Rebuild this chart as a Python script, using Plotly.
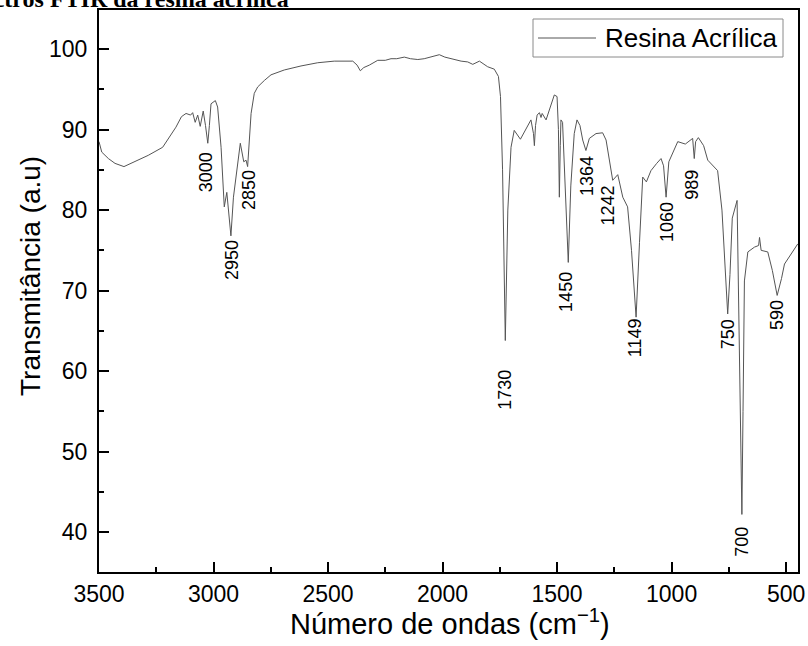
import plotly.graph_objects as go

# Spectrum (wavenumber cm-1, transmittance)
wavenumber = [3500, 3488, 3459, 3430, 3391, 3343, 3285, 3222, 3204, 3164, 3140, 3120, 3100, 3091,
              3080, 3069, 3058, 3045, 3035, 3025, 3018, 3011, 2992, 2982, 2967, 2953, 2942, 2924,
              2913, 2894, 2883, 2868, 2858, 2851, 2843, 2836, 2822, 2807, 2778, 2749, 2691, 2618,
              2545, 2473, 2392, 2373, 2359, 2344, 2320, 2283, 2250, 2225, 2200, 2167, 2140, 2108,
              2080, 2050, 2014, 1990, 1963, 1919, 1890, 1868, 1839, 1803, 1774, 1756, 1747, 1738,
              1726, 1715, 1701, 1687, 1660, 1614, 1603, 1599, 1594, 1587, 1577, 1570, 1565, 1548,
              1512, 1500, 1494, 1490, 1486, 1483, 1476, 1462, 1451, 1440, 1425, 1413, 1400, 1388,
              1374, 1359, 1330, 1301, 1286, 1257, 1235, 1213, 1192, 1175, 1155, 1140, 1126, 1110,
              1090, 1065, 1046, 1035, 1024, 1012, 1002, 973, 940, 908, 901, 895, 883, 860, 842,
              799, 780, 755, 745, 735, 714, 705, 693, 688, 682, 667, 638, 620, 616, 609, 580, 560,
              539, 520, 507, 449]
transmittance = [88.5, 87.2, 86.4, 85.8, 85.4, 86.0, 86.8, 87.8, 88.6, 90.3, 91.6, 92.0, 91.8, 92.1,
                 90.9, 91.8, 90.4, 92.3, 90.5, 88.3, 90.5, 93.2, 93.6, 92.8, 87.8, 80.4, 82.2, 76.8,
                 81.6, 86.2, 88.3, 86.0, 86.2, 85.4, 89.0, 92.0, 94.5, 95.3, 96.1, 96.8, 97.4, 97.9,
                 98.3, 98.5, 98.5, 98.0, 97.3, 97.7, 98.0, 98.6, 98.6, 98.8, 98.8, 99.0, 98.8, 98.7,
                 98.8, 99.0, 99.3, 99.0, 98.8, 98.5, 98.4, 98.1, 98.5, 97.8, 97.5, 96.6, 94.1, 85.0,
                 63.8, 80.0, 87.8, 89.9, 88.8, 91.2, 89.5, 88.0, 90.5, 91.8, 92.1, 91.5, 92.0, 91.2,
                 94.3, 94.1, 90.0, 81.6, 88.0, 91.2, 90.9, 80.0, 73.5, 83.0, 89.5, 91.2, 90.5, 88.7,
                 87.4, 88.9, 89.5, 89.6, 88.7, 83.7, 84.4, 81.6, 80.4, 75.0, 66.7, 76.0, 84.1, 83.5,
                 84.9, 85.8, 86.4, 85.5, 81.6, 86.0, 86.6, 88.5, 88.2, 88.9, 86.4, 88.5, 89.0, 88.0, 86.2,
                 84.9, 80.0, 67.1, 72.0, 79.0, 81.2, 65.0, 42.2, 55.0, 71.2, 74.8, 75.4, 75.6, 76.6, 75.0, 74.8, 72.5,
                 69.4, 71.5, 73.3, 75.8]

# Peak labels: text, x position, y position
peak_labels = ["3000", "2950", "2850", "1730", "1450", "1364", "1242", "1149", "1060", "989", "750", "700", "590"]
peak_x = [3033, 2919, 2845, 1727, 1458, 1370, 1276, 1159, 1021, 912, 753, 693, 539]
peak_y = [84.7, 73.8, 82.5, 57.7, 69.8, 84.2, 80.6, 64.1, 78.5, 83.1, 64.6, 38.8, 67.0]

series_name = "Resina Acrílica"
x_title = "Número de ondas (cm<sup>−1</sup>)"
y_title = "Transmitância (a.u)"
caption = "<b>Figura 4 – Espectros FTIR da resina acrílica</b>"

FONT = "Liberation Sans, Arial, sans-serif"
W, H = 808, 646
ML, MR, MT, MB = 99, 10, 10, 74
PW, PH = W - ML - MR, H - MT - MB


def px_x(px):
    return (px - ML) / PW


def px_y(py):
    return (H - MB - py) / PH


fig = go.Figure()
fig.add_trace(go.Scatter(x=wavenumber, y=transmittance, mode="lines",
                         line=dict(color="#555555", width=1),
                         name=series_name, showlegend=False))

for t, x, y in zip(peak_labels, peak_x, peak_y):
    fig.add_annotation(x=x, y=y, text=t, textangle=-90, showarrow=False,
                       font=dict(family=FONT, size=18, color="black"),
                       xanchor="center", yanchor="middle")

# clipped caption at top of the page
fig.add_annotation(xref="paper", yref="paper", x=px_x(291), y=px_y(14),
                   xanchor="right", yanchor="bottom", showarrow=False, text=caption,
                   font=dict(family="Liberation Serif, Times New Roman, serif", size=24, color="black"))

# axis titles
fig.add_annotation(xref="paper", yref="paper", x=px_x(450), y=px_y(622),
                   xanchor="center", yanchor="middle", showarrow=False, text=x_title,
                   font=dict(family=FONT, size=29, color="black"))
fig.add_annotation(xref="paper", yref="paper", x=px_x(30), y=px_y(276),
                   xanchor="center", yanchor="middle", showarrow=False, text=y_title,
                   textangle=-90, font=dict(family=FONT, size=28, color="black"))

# legend box (drawn to match the reference legend)
fig.add_shape(type="rect", xref="paper", yref="paper",
              x0=px_x(533), x1=px_x(783), y0=px_y(57), y1=px_y(19),
              line=dict(color="#8a8a8a", width=1), fillcolor="white", layer="above")
fig.add_shape(type="line", xref="paper", yref="paper",
              x0=px_x(538), x1=px_x(596), y0=px_y(38), y1=px_y(38),
              line=dict(color="#555555", width=1), layer="above")
fig.add_annotation(xref="paper", yref="paper", x=px_x(603), y=px_y(38),
                   xanchor="left", yanchor="middle", showarrow=False, text=series_name,
                   font=dict(family=FONT, size=26, color="black"))

axis_common = dict(showline=True, linecolor="black", linewidth=2, mirror=True,
                   ticks="inside", ticklen=10, tickwidth=2, tickcolor="black",
                   showgrid=False, zeroline=False, automargin=False,
                   tickfont=dict(family=FONT, size=23, color="black"))

fig.update_xaxes(range=[3500, 448], tickmode="linear", tick0=500, dtick=500,
                 minor=dict(ticks="inside", ticklen=5, tickwidth=2, tickcolor="black",
                            dtick=250, showgrid=False),
                 **axis_common)
fig.update_yaxes(range=[35.05, 104.85], tickmode="linear", tick0=0, dtick=10,
                 minor=dict(ticks="inside", ticklen=5, tickwidth=2, tickcolor="black",
                            dtick=5, showgrid=False),
                 ticklabelstandoff=5,
                 **axis_common)

fig.update_layout(
    width=W, height=H,
    margin=dict(l=ML, r=MR, t=MT, b=MB),
    paper_bgcolor="white", plot_bgcolor="white",
    showlegend=False,
)

fig.write_html("out.html", config={"displayModeBar": False},
               post_script="document.body.style.margin='0';")
